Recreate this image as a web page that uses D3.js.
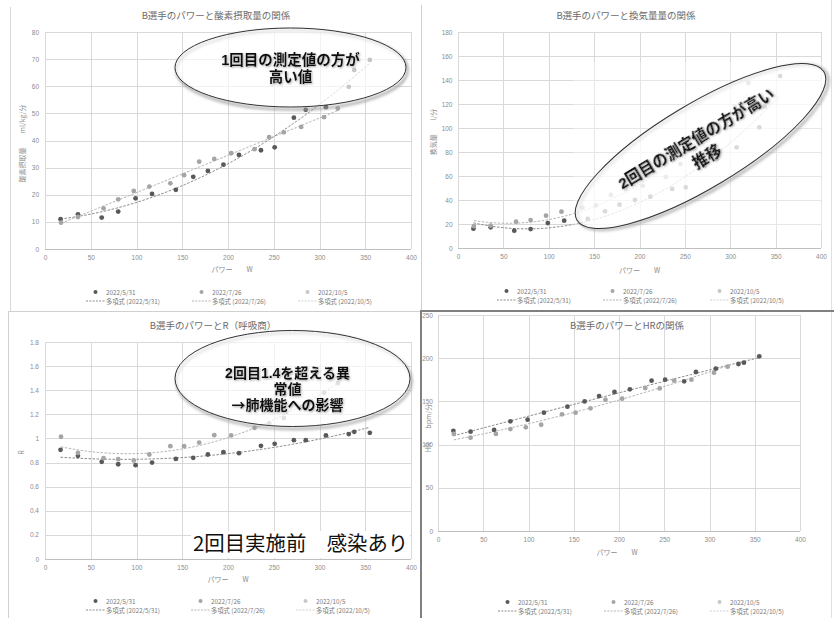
<!DOCTYPE html>
<html>
<head>
<meta charset="utf-8">
<script src="https://cdn.jsdelivr.net/npm/d3@7"></script>
<style>
  body { margin: 0; background: #fff; }
  svg { display: block; font-family: "Noto Sans CJK JP", "Noto Sans", sans-serif; }
</style>
</head>
<body>
<svg id="chart" width="834" height="618"></svg>
<script>
// ---- test dates (legend entries) ----
const testDates = ["2022/5/31", "2022/7/26", "2022/10/5"];

// ---- power steps (W) for each test ----
const powerTest1 = [17, 36, 62, 80, 99, 117, 143, 162, 178, 195, 212, 236, 251, 272, 285, 307, 332, 338, 355];
const powerTest2 = [17.5, 36, 64, 80, 97, 114, 137, 152, 168.5, 185, 203.5, 229, 245, 261, 280, 305, 320];
const powerTest3 = [];

// ---- oxygen uptake (ml/kg/min) ----
const vo2Test1 = [11.0, 12.8, 11.6, 13.8, 18.7, 20.3, 21.8, 26.6, 28.8, 31.1, 34.7, 36.4, 37.5, 48.4, 51.3, 52.3, 59.8, 66.0, 69.7];
const vo2Test2 = [9.7, 11.8, 15.0, 18.3, 21.4, 23.0, 24.2, 27.2, 32.2, 33.2, 35.3, 36.8, 41.2, 43.0, 45.0, 48.6, 51.8];
const vo2Test3 = [];

// ---- ventilation (l/min) ----
const veTest1 = [16.1, 17.2, 14.4, 15.8, 20.8, 22.8, 24.2, 30.6, 36.1, 40.0, 42.8, 49.2, 50.6, 68.3, 73.9, 83.9, 100.6, 118.0, 143.3];
const veTest2 = [18.3, 18.6, 21.9, 23.3, 26.9, 30.3, 33.6, 35.6, 44.2, 48.9, 51.9, 59.2, 70.0, 82.0, 98.0, 118.0, 137.5];
const veTest3 = [];

// ---- respiratory quotient R ----
const rTest1 = [0.906, 0.856, 0.806, 0.786, 0.778, 0.80, 0.83, 0.839, 0.867, 0.886, 0.878, 0.939, 0.955, 0.986, 0.986, 1.025, 1.036, 1.055, 1.047];
const rTest2 = [1.014, 0.88, 0.836, 0.828, 0.817, 0.867, 0.936, 0.936, 0.966, 1.027, 1.025, 1.088, 1.124, 1.169, 1.263, 1.38, 1.46];
const rTest3 = [];

// ---- heart rate (bpm) ----
const hrTest1 = [116.0, 115.0, 117.0, 126.9, 128.9, 137.0, 143.9, 150.0, 156.2, 160.9, 164.0, 174.0, 175.2, 173.2, 184.0, 187.9, 193.3, 194.8, 202.2];
const hrTest2 = [112.3, 108.0, 112.3, 118.0, 120.0, 123.0, 135.0, 137.0, 142.0, 152.0, 153.2, 165.5, 165.0, 174.0, 175.2, 183.3, 190.2];
const hrTest3 = [];

// ---- axis ticks ----
const powerTicks = [0, 50, 100, 150, 200, 250, 300, 350, 400];
const vo2Ticks = [0, 10, 20, 30, 40, 50, 60, 70, 80];
const veTicks = [0, 20, 40, 60, 80, 100, 120, 140, 160, 180];
const rTicks = [0, 0.2, 0.4, 0.6, 0.8, 1.0, 1.2, 1.4, 1.6, 1.8];
const hrTicks = [0, 50, 100, 150, 200, 250];

// ---- text ----
const titles = [
  "B選手のパワーと酸素摂取量の関係",
  "B選手のパワーと換気量量の関係",
  "B選手のパワーとR（呼吸商）",
  "B選手のパワーとHRの関係"
];
const xTitle = "パワー　　W";
const yTitles = ["酸素摂取量　　ml/kg/分", "換気量　　l/分", "R", "HR　　bpm/分"];
const trendLabel = "多項式";

const seriesColors = ["#595959", "#a5a5a5", "#c8c8c8"];
const trendColors = ["#8a8a8a", "#b4b4b4", "#cfcfcf"];

const svg = d3.select("#chart");
const defs = svg.append("defs");
const blur = defs.append("filter").attr("id", "soft").attr("x", "-20%").attr("y", "-20%").attr("width", "140%").attr("height", "140%");
blur.append("feGaussianBlur").attr("stdDeviation", 1.6);
const glow = defs.append("filter").attr("id", "textglow").attr("x", "-10%").attr("y", "-30%").attr("width", "120%").attr("height", "160%");
glow.append("feDropShadow").attr("dx", 0.8).attr("dy", 1).attr("stdDeviation", 0.9)
  .attr("flood-color", "#777").attr("flood-opacity", 0.7);

// least-squares quadratic fit (Excel "polynomial" trendline, order 2)
function quadFit(xs, ys) {
  const n = xs.length;
  let s = [0, 0, 0, 0, 0], t = [0, 0, 0];
  for (let i = 0; i < n; i++) {
    let p = 1;
    for (let k = 0; k < 5; k++) { s[k] += p; if (k < 3) t[k] += p * ys[i]; p *= xs[i]; }
  }
  const A = [[s[0], s[1], s[2], t[0]], [s[1], s[2], s[3], t[1]], [s[2], s[3], s[4], t[2]]];
  for (let c = 0; c < 3; c++) {
    for (let r = c + 1; r < 3; r++) {
      const f = A[r][c] / A[c][c];
      for (let k = c; k < 4; k++) A[r][k] -= f * A[c][k];
    }
  }
  const coef = [0, 0, 0];
  for (let r = 2; r >= 0; r--) {
    let v = A[r][3];
    for (let k = r + 1; k < 3; k++) v -= A[r][k] * coef[k];
    coef[r] = v / A[r][r];
  }
  return x => coef[0] + coef[1] * x + coef[2] * x * x;
}

function tickText(d) { return String(+d.toFixed(1)); }

function drawPanel(p) {
  const g = svg.append("g");
  const x = d3.scaleLinear().domain([0, 400]).range([p.x0, p.x1]);
  const y = d3.scaleLinear().domain([0, p.ymax]).range([p.y1, p.y0]);

  // vertical grid + x tick labels
  const gx = g.append("g").attr("transform", `translate(0,${p.y1})`)
    .call(d3.axisBottom(x).tickValues(powerTicks).tickFormat(tickText)
      .tickSize(-(p.y1 - p.y0)).tickPadding(p.xPad));
  // horizontal grid + y tick labels
  const gy = g.append("g").attr("transform", `translate(${p.x0},0)`)
    .call(d3.axisLeft(y).tickValues(p.yTicks).tickFormat(tickText)
      .tickSize(-(p.x1 - p.x0)).tickPadding(p.yPad));
  [gx, gy].forEach(a => {
    a.select(".domain").remove();
    a.selectAll(".tick line").attr("stroke", "#d9d9d9").attr("stroke-width", 1).attr("shape-rendering", "crispEdges");
    a.selectAll(".tick text").attr("fill", "#8c8c8c").style("font-size", "6.5px")
      .style("font-family", "'Liberation Sans', 'DejaVu Sans', sans-serif");
  });
  gy.selectAll(".tick").filter(d => d === 0).select("line").attr("stroke", "#bfbfbf");

  // title
  g.append("text").attr("x", p.titleX).attr("y", p.titleY).attr("text-anchor", "middle")
    .attr("dominant-baseline", "central").attr("fill", "#6b6b6b").style("font-size", "9.5px").text(p.title);

  // axis titles
  g.append("text").attr("x", (p.x0 + p.x1) / 2 + p.xtDx).attr("y", p.xtY).attr("text-anchor", "middle")
    .attr("dominant-baseline", "central").attr("fill", "#8c8c8c").style("font-size", "7px").text(xTitle);
  g.append("text").attr("transform", `translate(${p.ytX},${(p.y0 + p.y1) / 2 + p.ytDy}) rotate(-90)`)
    .attr("text-anchor", "middle").attr("dominant-baseline", "central")
    .attr("fill", "#8c8c8c").style("font-size", "7px").text(p.yTitle);

  // trend lines
  p.series.forEach((s, i) => {
    if (s.x.length < 3) return;
    const f = quadFit(s.x, s.y);
    const [lo, hi] = d3.extent(s.x);
    const xs = d3.range(0, 81).map(k => lo + (hi - lo) * k / 80);
    g.append("path").datum(xs)
      .attr("d", d3.line().x(v => x(v)).y(v => y(f(v))))
      .attr("fill", "none").attr("stroke", trendColors[i]).attr("stroke-width", 1)
      .attr("stroke-dasharray", "2.5,1.5");
  });

  // markers
  p.series.forEach((s, i) => {
    g.append("g").selectAll("circle").data(s.x.map((v, k) => [v, s.y[k]])).join("circle")
      .attr("cx", d => x(d[0])).attr("cy", d => y(d[1])).attr("r", 2.4)
      .attr("fill", seriesColors[i]);
  });

  // legend
  const lg = g.append("g").style("font-size", "6.3px")
    .style("font-family", "'Noto Sans CJK JP', 'Liberation Sans', sans-serif").attr("fill", "#7a7a7a");
  testDates.forEach((dt, i) => {
    const tx = p.legendX[i];
    lg.append("circle").attr("cx", tx - 10.5).attr("cy", p.legendY[0]).attr("r", 2).attr("fill", seriesColors[i]);
    lg.append("text").attr("x", tx).attr("y", p.legendY[0]).attr("dominant-baseline", "central").text(dt);
    lg.append("line").attr("x1", tx - 20).attr("x2", tx - 1).attr("y1", p.legendY[1]).attr("y2", p.legendY[1])
      .attr("stroke", trendColors[i]).attr("stroke-width", 1).attr("stroke-dasharray", "2,1.3");
    lg.append("text").attr("x", tx).attr("y", p.legendY[1]).attr("dominant-baseline", "central")
      .text(`${trendLabel} (${dt})`);
  });
  return { x, y };
}

// ---- panel frames ----
const frame = svg.append("g").attr("shape-rendering", "crispEdges");
frame.append("line").attr("x1", 10.5).attr("x2", 10.5).attr("y1", 7).attr("y2", 311).attr("stroke", "#d9d9d9");
frame.append("line").attr("x1", 421.5).attr("x2", 421.5).attr("y1", 5).attr("y2", 311).attr("stroke", "#d0d0d0");
frame.append("line").attr("x1", 831.5).attr("x2", 831.5).attr("y1", 0).attr("y2", 618).attr("stroke", "#e0e0e0");
frame.append("line").attr("x1", 8).attr("x2", 421).attr("y1", 311.5).attr("y2", 311.5).attr("stroke", "#d0d0d0");
frame.append("line").attr("x1", 8.5).attr("x2", 8.5).attr("y1", 311).attr("y2", 618).attr("stroke", "#d0d0d0");

const panels = [
  { title: titles[0], yTitle: yTitles[0], x0: 45, x1: 411, y0: 32, y1: 249, ymax: 80, yTicks: vo2Ticks,
    xPad: 6.5, yPad: 6, titleX: 216, titleY: 15, xtY: 269, xtDx: 4, ytX: 22, ytDy: 3,
    legendX: [106, 212, 318], legendY: [292, 301],
    series: [{ x: powerTest1, y: vo2Test1 }, { x: powerTest2, y: vo2Test2 }, { x: powerTest3, y: vo2Test3 }] },
  { title: titles[1], yTitle: yTitles[1], x0: 458, x1: 821, y0: 32, y1: 248, ymax: 180, yTicks: veTicks,
    xPad: 6.5, yPad: 5.5, titleX: 626, titleY: 15, xtY: 270, xtDx: 0, ytX: 433, ytDy: -8,
    legendX: [517, 623, 730], legendY: [291, 300],
    series: [{ x: powerTest1, y: veTest1 }, { x: powerTest2, y: veTest2 }, { x: powerTest3, y: veTest3 }] },
  { title: titles[2], yTitle: yTitles[2], x0: 45, x1: 411, y0: 342, y1: 559, ymax: 1.8, yTicks: rTicks,
    xPad: 6.5, yPad: 6, titleX: 213, titleY: 325, xtY: 579, xtDx: 0, ytX: 21, ytDy: 2,
    legendX: [106, 211, 316], legendY: [601, 610],
    series: [{ x: powerTest1, y: rTest1 }, { x: powerTest2, y: rTest2 }, { x: powerTest3, y: rTest3 }] },
  { title: titles[3], yTitle: yTitles[3], x0: 438, x1: 800, y0: 315, y1: 531, ymax: 250, yTicks: hrTicks,
    xPad: 6, yPad: 5, titleX: 627, titleY: 325, xtY: 552, xtDx: -2, ytX: 428, ytDy: 5,
    legendX: [518, 624, 730], legendY: [602, 611],
    series: [{ x: powerTest1, y: hrTest1 }, { x: powerTest2, y: hrTest2 }, { x: powerTest3, y: hrTest3 }] }
];

panels.forEach(drawPanel);

// ---- bottom-right frame (dark border) ----
const frame2 = svg.append("g").attr("shape-rendering", "crispEdges");
frame2.append("line").attr("x1", 420).attr("x2", 834).attr("y1", 311).attr("y2", 311).attr("stroke", "#808080").attr("stroke-width", 2);
frame2.append("line").attr("x1", 421).attr("x2", 421).attr("y1", 310).attr("y2", 618).attr("stroke", "#808080").attr("stroke-width", 2);

// ---- callout ellipses ----
function callout(c) {
  if (c.haze) {
    svg.append("rect").attr("x", c.haze[0]).attr("y", c.haze[1]).attr("width", c.haze[2]).attr("height", c.haze[3])
      .attr("fill", "#fff").attr("opacity", 0.35);
  }
  const g = svg.append("g").attr("transform", `translate(${c.cx},${c.cy}) rotate(${c.rot})`);
  g.append("ellipse").attr("cx", 1.5).attr("cy", 2.5).attr("rx", c.rx).attr("ry", c.ry)
    .attr("fill", "none").attr("stroke", "#9a9a9a").attr("stroke-width", 2).attr("filter", "url(#soft)");
  g.append("ellipse").attr("rx", c.rx).attr("ry", c.ry)
    .attr("fill", "#fff").attr("fill-opacity", 0.66).attr("stroke", "#333").attr("stroke-width", 1);
  // one text block, one tspan per line; the arrow keeps the CJK glyph
  const t = g.append("text").attr("text-anchor", "middle").attr("fill", "#111").attr("font-weight", 700)
    .attr("filter", "url(#textglow)").style("font-size", c.fs + "px")
    .style("font-family", "'Liberation Sans', 'Noto Sans CJK JP', sans-serif");
  c.lines.forEach((line, i) => {
    const ts = t.append("tspan").attr("x", c.tx).attr("y", c.ty + i * c.lh).attr("dy", "0.36em");
    if (line.startsWith("→")) {
      ts.append("tspan").style("font-family", "'Noto Sans CJK JP', sans-serif").text("→");
      ts.append("tspan").text(line.slice(1));
    } else {
      ts.text(line);
    }
  });
}

callout({ cx: 290.5, cy: 67.5, rx: 115.5, ry: 39.5, rot: 0, tx: 0, ty: -8, lh: 17.3, fs: 14.5,
  lines: ["1回目の測定値の方が", "高い値"] });
callout({ cx: 700.5, cy: 146, rx: 144, ry: 42, rot: -31, tx: 0, ty: -8.6, lh: 21, fs: 15.5,
  haze: [573, 62, 250, 168],
  lines: ["2回目の測定値の方が高い", "推移"] });
callout({ cx: 292.5, cy: 378.5, rx: 117.5, ry: 48, rot: 0, tx: -5, ty: -5.5, lh: 16, fs: 14,
  lines: ["2回目1.4を超える異", "常値", "→肺機能への影響"] });

// ---- note box ----
const note = svg.append("g");
note.append("rect").attr("x", 191).attr("y", 531).attr("width", 219).attr("height", 27).attr("fill", "#fff");
note.append("text").attr("x", 193).attr("y", 551).attr("fill", "#111").style("font-size", "20.4px")
  .text("2回目実施前　感染あり");
</script>
</body>
</html>
